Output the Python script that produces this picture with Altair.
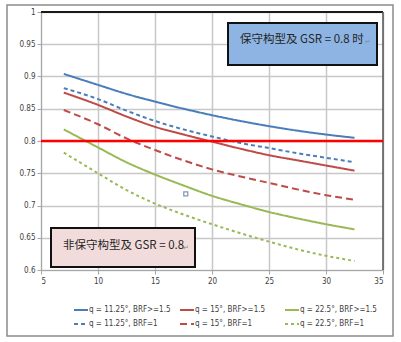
import altair as alt
import pandas as pd

# ---- data ----
x_vals = [7, 10, 12.5, 15, 17.5, 20, 22.5, 25, 27.5, 30, 32.5]
blue_solid = [0.904, 0.887, 0.873, 0.861, 0.850, 0.840, 0.831, 0.823, 0.816, 0.810, 0.805]
blue_dash = [0.882, 0.865, 0.847, 0.831, 0.818, 0.807, 0.797, 0.789, 0.781, 0.774, 0.767]
red_solid = [0.875, 0.856, 0.838, 0.822, 0.810, 0.799, 0.788, 0.778, 0.770, 0.762, 0.754]
red_dash = [0.848, 0.826, 0.804, 0.786, 0.770, 0.756, 0.745, 0.735, 0.725, 0.716, 0.709]
green_solid = [0.818, 0.790, 0.767, 0.748, 0.731, 0.715, 0.702, 0.690, 0.680, 0.671, 0.663]
green_dash = [0.782, 0.750, 0.724, 0.703, 0.686, 0.671, 0.657, 0.644, 0.632, 0.622, 0.614]

series_names = [
    "q = 11.25°, BRF>=1.5", "q = 15°, BRF>=1.5", "q = 22.5°, BRF>=1.5",
    "q = 11.25°, BRF=1", "q = 15°, BRF=1", "q = 22.5°, BRF=1",
]
series_values = [blue_solid, red_solid, green_solid, blue_dash, red_dash, green_dash]
series_colors = ["#4A7EBB", "#BE4B48", "#98B954", "#4A7EBB", "#BE4B48", "#98B954"]
series_dashes = [[1, 0], [1, 0], [1, 0], [4, 3], [7, 4], [3, 3]]

gsr_level = [0.8]
x_ticks = [5, 10, 15, 20, 25, 30, 35]
y_ticks = [0.6, 0.65, 0.7, 0.75, 0.8, 0.85, 0.9, 0.95, 1.0]
stray_x = [17.7]
stray_y = [0.718]

box1_text = "保守构型及 GSR = 0.8 时"
box2_text = "非保守构型及 GSR = 0.8"

W, H = 342, 258
NARROW = "Liberation Sans Narrow, Arial Narrow, DejaVu Sans Condensed, sans-serif"
CJK = "Noto Sans CJK SC"

rows = []
for name, vals in zip(series_names, series_values):
    for xv, yv in zip(x_vals, vals):
        rows.append({"x": xv, "v": yv, "series": name})
df = pd.DataFrame(rows)

xs = alt.Scale(domain=[5, 35], nice=False, zero=False)
ys = alt.Scale(domain=[0.6, 1.0], nice=False, zero=False)

x_axis = alt.Axis(values=x_ticks, title=None, grid=True, gridColor="#C8C8C8", gridWidth=1.5,
                  domainColor="#A6A6A6", tickColor="#A6A6A6", tickSize=4, labelOverlap=False,
                  labelFont=NARROW, labelFontSize=8, labelColor="#404040", labelPadding=3)
y_axis = alt.Axis(values=y_ticks, title=None, grid=True, gridColor="#C8C8C8", gridWidth=1.5,
                  domainColor="#A6A6A6", tickColor="#A6A6A6", tickSize=4, format="~g",
                  labelOverlap=False, labelFont=NARROW, labelFontSize=8, labelColor="#404040",
                  labelPadding=2)

# outer frame (no fill so the axes stay visible)
frame = alt.Chart(pd.DataFrame({"a": [0]})).mark_rect(
    filled=False, stroke="#8C8C8C", strokeWidth=1.5
).encode(x=alt.value(-34), x2=alt.value(352), y=alt.value(-7), y2=alt.value(324))

lines = alt.Chart(df).mark_line(strokeWidth=2, interpolate="monotone").encode(
    x=alt.X("x:Q", scale=xs, axis=x_axis),
    y=alt.Y("v:Q", scale=ys, axis=y_axis),
    color=alt.Color("series:N", scale=alt.Scale(domain=series_names, range=series_colors), legend=None),
    strokeDash=alt.StrokeDash("series:N", scale=alt.Scale(domain=series_names, range=series_dashes), legend=None),
    detail="series:N",
)

top_rule = alt.Chart(pd.DataFrame({"a": [0]})).mark_rule(color="#1A1A1A", strokeWidth=2).encode(
    x=alt.value(0), x2=alt.value(W), y=alt.value(0))
right_rule = alt.Chart(pd.DataFrame({"a": [0]})).mark_rule(color="#555555", strokeWidth=1.5).encode(
    x=alt.value(W), y=alt.value(0), y2=alt.value(H))

gsr = alt.Chart(pd.DataFrame({"g": gsr_level})).mark_rule(color="#FF0000", strokeWidth=2.5).encode(
    y=alt.Y("g:Q", scale=ys, axis=y_axis), x=alt.value(0), x2=alt.value(W))

stray = alt.Chart(pd.DataFrame({"x": stray_x, "y": stray_y})).mark_square(
    size=16, filled=False, color="#4A6A8A", strokeWidth=1.2
).encode(x=alt.X("x:Q", scale=xs, axis=x_axis), y=alt.Y("y:Q", scale=ys, axis=y_axis))

# annotation boxes
box1 = alt.Chart(pd.DataFrame({"a": [0]})).mark_rect(
    fill="#8DB4E2", stroke="#111111", strokeWidth=2
).encode(x=alt.value(187), x2=alt.value(336), y=alt.value(11), y2=alt.value(53))
box1_t = alt.Chart(pd.DataFrame({"t": [box1_text]})).mark_text(
    font=CJK, fontSize=11.5, color="#262626", align="left", baseline="middle"
).encode(text="t:N", x=alt.value(199), y=alt.value(28))
box1_p = alt.Chart(pd.DataFrame({"t": ["↵"]})).mark_text(
    font=CJK, fontSize=7, color="#8A8A8A", align="left", baseline="middle"
).encode(text="t:N", x=alt.value(324), y=alt.value(30))

box2 = alt.Chart(pd.DataFrame({"a": [0]})).mark_rect(
    fill="#F2DCDB", stroke="#111111", strokeWidth=2
).encode(x=alt.value(10), x2=alt.value(154), y=alt.value(216), y2=alt.value(255))
box2_t = alt.Chart(pd.DataFrame({"t": [box2_text]})).mark_text(
    font=CJK, fontSize=11.5, color="#262626", align="left", baseline="middle"
).encode(text="t:N", x=alt.value(22), y=alt.value(234))
box2_p = alt.Chart(pd.DataFrame({"t": ["↵"]})).mark_text(
    font=CJK, fontSize=7, color="#8A8A8A", align="left", baseline="middle"
).encode(text="t:N", x=alt.value(142), y=alt.value(236))

# manual legend
leg_cols = [33, 139, 244]
leg_rows = [298, 312]
legend_layers = []
for i, name in enumerate(series_names):
    lx = leg_cols[i % 3]
    ly = leg_rows[i // 3]
    rule = alt.Chart(pd.DataFrame({"a": [0]})).mark_rule(
        color=series_colors[i], strokeWidth=2, strokeDash=series_dashes[i]
    ).encode(x=alt.value(lx), x2=alt.value(lx + 14), y=alt.value(ly))
    txt = alt.Chart(pd.DataFrame({"t": [name]})).mark_text(
        font=NARROW, fontSize=8, color="#404040", align="left", baseline="middle"
    ).encode(text="t:N", x=alt.value(lx + 15), y=alt.value(ly))
    legend_layers += [rule, txt]

chart = alt.layer(
    frame, lines, top_rule, right_rule, gsr, stray,
    box1, box1_t, box1_p, box2, box2_t, box2_p, *legend_layers
).properties(
    width=W, height=H,
    autosize=alt.AutoSizeParams(type="none"),
    padding={"left": 41, "top": 12, "right": 18, "bottom": 72},
    background="white",
).configure_view(stroke=None)

chart.save("out.html", embed_options={"renderer": "svg", "actions": False})
